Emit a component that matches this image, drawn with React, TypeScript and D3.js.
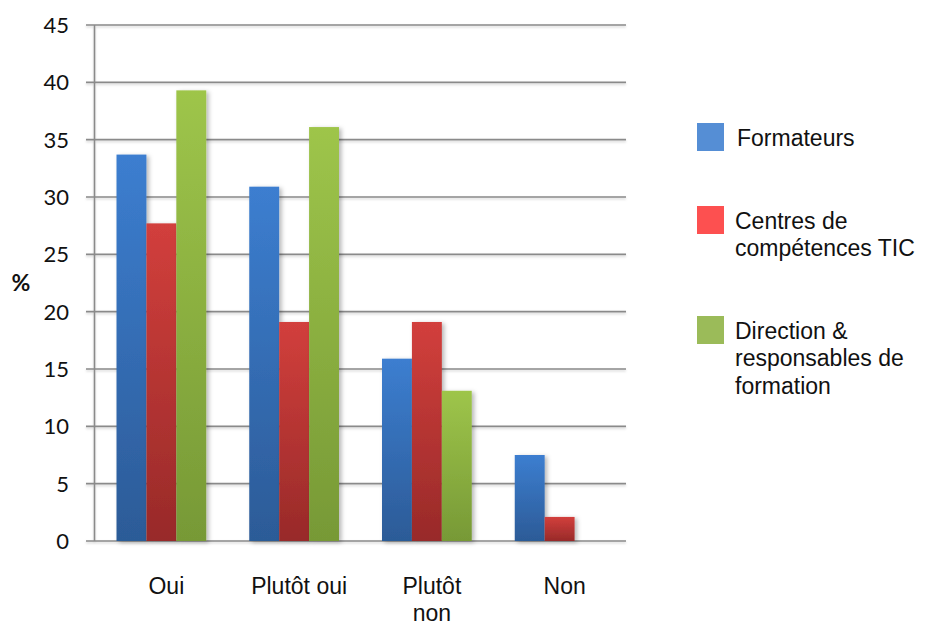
import React from "react";
import * as d3 from "d3";

const categories = ["Oui", "Plutôt oui", "Plutôt non", "Non"];
const categoryLines = [["Oui"], ["Plutôt oui"], ["Plutôt", "non"], ["Non"]];
const seriesNames = ["Formateurs", "Centres de compétences TIC", "Direction & responsables de formation"];
const legendLines = [["Formateurs"], ["Centres de", "compétences TIC"], ["Direction &", "responsables de", "formation"]];
const formateurs = [33.7, 30.9, 15.9, 7.5];
const centres = [27.7, 19.1, 19.1, 2.1];
const direction = [39.3, 36.1, 13.1, null as number | null];
const yTicks = [0, 5, 10, 15, 20, 25, 30, 35, 40, 45];

const seriesValues = [formateurs, centres, direction];
const gradTop = ["#3c7ed0", "#d23f3c", "#9ec54a"];
const gradBottom = ["#2c5b97", "#982a29", "#779936"];
const legendColors = ["#558ed5", "#fd5050", "#9bbb59"];

export default function App() {
  const W = 926, H = 624;
  const x = d3.scaleBand<string>().domain(categories).range([95, 626]).paddingInner(0.324).paddingOuter(0.162);
  const xs = d3.scaleBand<string>().domain(seriesNames).range([0, x.bandwidth()]);
  const y = d3.scaleLinear().domain([0, 45]).range([541, 25]);
  const font = "'Liberation Sans', Arial, sans-serif";

  return (
    <svg width={W} height={H} style={{ position: "absolute", left: 0, top: 0, background: "#fff" }}>
      <defs>
        {seriesNames.map((s, i) => (
          <linearGradient key={s} id={`g${i}`} x1="0" y1="0" x2="0" y2="1">
            <stop offset="0" stopColor={gradTop[i]} />
            <stop offset="1" stopColor={gradBottom[i]} />
          </linearGradient>
        ))}
        <filter id="sh" x="-20%" y="-10%" width="150%" height="130%">
          <feDropShadow dx="2.5" dy="1.5" stdDeviation="2" floodColor="#000" floodOpacity="0.28" />
        </filter>
        <filter id="lsh" x="-5%" y="-200%" width="110%" height="500%">
          <feDropShadow dx="0" dy="1.5" stdDeviation="0.8" floodColor="#000" floodOpacity="0.18" />
        </filter>
      </defs>

      <g filter="url(#lsh)">
        {yTicks.map((t) => (
          <line key={t} x1={86} x2={626} y1={y(t)} y2={y(t)} stroke="#8a8a8a" strokeWidth={1.6} />
        ))}
        <line x1={94.5} x2={94.5} y1={y(45)} y2={y(0)} stroke="#8a8a8a" strokeWidth={1.6} />
      </g>

      {yTicks.map((t) => (
        <text key={t} x={69} y={y(t)} dy="0.36em" textAnchor="end" fontFamily="Lato, 'Open Sans', sans-serif" fontSize={22} fill="#111">
          {t}
        </text>
      ))}
      <text x={21} y={283} dy="0.36em" textAnchor="middle" fontFamily="Lato, sans-serif" fontWeight="bold" fontSize={23} fill="#111">
        %
      </text>

      {categories.map((c, ci) => (
        <g key={c} transform={`translate(${x(c)},0)`}>
          {seriesNames.map((s, si) => {
            const v = seriesValues[si][ci];
            if (v == null) return null;
            return (
              <rect key={s} x={xs(s)} y={y(v)} width={xs.bandwidth()} height={y(0) - y(v)} fill={`url(#g${si})`} filter="url(#sh)" />
            );
          })}
        </g>
      ))}

      {categories.map((c, ci) => (
        <text key={c} x={(x(c) ?? 0) + x.bandwidth() / 2 + 5} y={594} textAnchor="middle" fontFamily={font} fontSize={23} fill="#111">
          {categoryLines[ci].map((l, li) => (
            <tspan key={li} x={(x(c) ?? 0) + x.bandwidth() / 2 + 5} dy={li === 0 ? 0 : 26.5}>
              {l}
            </tspan>
          ))}
        </text>
      ))}

      {seriesNames.map((s, i) => {
        const sy = [123, 206, 316][i];
        const ty = [146, 229, 339][i];
        return (
          <g key={s}>
            <rect x={697} y={sy} width={27} height={28} fill={legendColors[i]} />
            <text x={i === 0 ? 737 : 735} y={ty} fontFamily={font} fontSize={23} fill="#111">
              {legendLines[i].map((l, li) => (
                <tspan key={li} x={i === 0 ? 737 : 735} dy={li === 0 ? 0 : 27.3}>
                  {l}
                </tspan>
              ))}
            </text>
          </g>
        );
      })}
    </svg>
  );
}
